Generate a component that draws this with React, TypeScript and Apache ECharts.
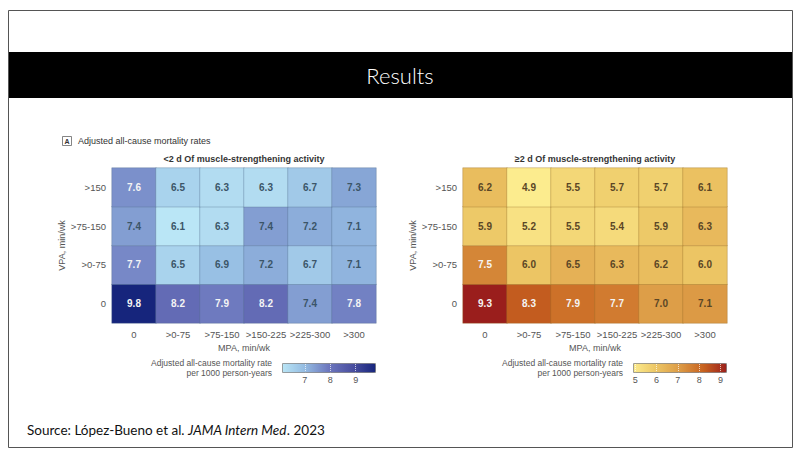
import React, { useEffect, useRef } from "react";
import * as echarts from "echarts";

const xCats = ["0", ">0-75", ">75-150", ">150-225", ">225-300", ">300"];
const yCats = ["0", ">0-75", ">75-150", ">150"];

// rows from bottom (VPA 0) to top (VPA >150), columns follow xCats
const lowRows = [
  [9.8, 8.2, 7.9, 8.2, 7.4, 7.8],
  [7.7, 6.5, 6.9, 7.2, 6.7, 7.1],
  [7.4, 6.1, 6.3, 7.4, 7.2, 7.1],
  [7.6, 6.5, 6.3, 6.3, 6.7, 7.3],
];
const highRows = [
  [9.3, 8.3, 7.9, 7.7, 7.0, 7.1],
  [7.5, 6.0, 6.5, 6.3, 6.2, 6.0],
  [5.9, 5.2, 5.5, 5.4, 5.9, 6.3],
  [6.2, 4.9, 5.5, 5.7, 5.7, 6.1],
];

const lowTicks = [7, 8, 9];
const highTicks = [5, 6, 7, 8, 9];
const lowRange = [6.1, 9.8];
const highRange = [4.9, 9.3];

const lowColors = ["#bae6f6", "#93bae1", "#6c76bd", "#4a4fa0", "#16257c"];
const highColors = ["#fcec8e", "#ecc564", "#dc9a45", "#c7621f", "#9a1e1c"];

const NARROW = "'Liberation Sans Narrow', 'Liberation Sans', sans-serif";
const SANS = "'Liberation Sans', sans-serif";

function buildData(rows: number[][], dark: string) {
  const out: any[] = [];
  rows.forEach((row, y) =>
    row.forEach((v, x) =>
      out.push({
        value: [x, y, v],
        label: { color: v >= 7.5 ? "#f4f4f4" : dark },
      })
    )
  );
  return out;
}

export default function App() {
  const ref = useRef<HTMLDivElement>(null);

  useEffect(() => {
    if (!ref.current) return;
    const chart = echarts.init(ref.current, null, { renderer: "svg" });

    const grids = [
      { left: 112, top: 168, width: 264, height: 155 },
      { left: 463, top: 168, width: 264, height: 155 },
      { left: 282, top: 363, width: 94, height: 10 },
      { left: 633, top: 363, width: 94, height: 10 },
    ];

    const catX = (gi: number) => ({
      type: "category",
      gridIndex: gi,
      data: xCats,
      axisLine: { show: false },
      axisTick: { show: false },
      splitArea: { show: false },
      axisLabel: {
        interval: 0,
        hideOverlap: false,
        fontFamily: NARROW,
        fontSize: 9.5,
        color: "#555",
        margin: 6,
      },
      name: "MPA, min/wk",
      nameLocation: "middle",
      nameGap: 20,
      nameTextStyle: { fontFamily: NARROW, fontSize: 9, color: "#555" },
    });
    const catY = (gi: number) => ({
      type: "category",
      gridIndex: gi,
      data: yCats,
      axisLine: { show: false },
      axisTick: { show: false },
      axisLabel: { interval: 0, fontFamily: NARROW, fontSize: 9.5, color: "#555", margin: 6 },
      name: "VPA, min/wk",
      nameLocation: "middle",
      nameGap: 35,
      nameTextStyle: { fontFamily: NARROW, fontSize: 9, color: "#555" },
    });
    const tickX = (gi: number, range: number[], ticks: number[]) => ({
      type: "value",
      gridIndex: gi,
      min: range[0],
      max: range[1],
      z: 10,
      axisLine: { show: false },
      splitLine: { show: false },
      axisTick: {
        show: true,
        inside: true,
        length: 10,
        customValues: ticks,
        lineStyle: { color: "rgba(255,255,255,0.7)", type: "dotted", width: 1 },
      },
      axisLabel: {
        customValues: ticks,
        fontFamily: NARROW,
        fontSize: 9,
        color: "#555",
        margin: 2,
      },
    });
    const hiddenY = (gi: number) => ({
      type: "value",
      gridIndex: gi,
      show: false,
    });

    const heat = (xi: number, rows: number[][], dark: string, border: string) => ({
      type: "heatmap",
      xAxisIndex: xi,
      yAxisIndex: xi,
      data: buildData(rows, dark),
      label: {
        show: true,
        fontFamily: SANS,
        fontSize: 10,
        fontWeight: "bold",
        formatter: (p: any) => p.value[2].toFixed(1),
      },
      itemStyle: { borderColor: border, borderWidth: 1 },
      emphasis: { disabled: true },
    });

    const option: any = {
      animation: false,
      backgroundColor: "#ffffff",
      grid: grids,
      xAxis: [
        catX(0),
        catX(1),
        tickX(2, lowRange, lowTicks),
        tickX(3, highRange, highTicks),
      ],
      yAxis: [catY(0), catY(1), hiddenY(2), hiddenY(3)],
      visualMap: [
        {
          type: "continuous",
          seriesIndex: 0,
          min: lowRange[0],
          max: lowRange[1],
          orient: "horizontal",
          left: 282,
          top: 363,
          itemWidth: 10,
          itemHeight: 94,
          padding: 0,
          calculable: false,
          hoverLink: false,
          text: null,
          showLabel: false,
          inRange: { color: lowColors },
          borderWidth: 0,
        },
        {
          type: "continuous",
          seriesIndex: 1,
          min: highRange[0],
          max: highRange[1],
          orient: "horizontal",
          left: 633,
          top: 363,
          itemWidth: 10,
          itemHeight: 94,
          padding: 0,
          calculable: false,
          hoverLink: false,
          text: null,
          showLabel: false,
          inRange: { color: highColors },
          borderWidth: 0,
        },
      ],
      series: [
        heat(0, lowRows, "#3b5568", "rgba(80,110,140,0.35)"),
        heat(1, highRows, "#5b4626", "rgba(150,110,40,0.35)"),
      ],
      graphic: [
        {
          type: "rect",
          z: 100,
          shape: { x: 8.5, y: 10.5, width: 784, height: 437 },
          style: { fill: "none", stroke: "#555", lineWidth: 1 },
        },
        {
          type: "rect",
          z: 90,
          shape: { x: 9, y: 52, width: 783, height: 46 },
          style: { fill: "#000" },
        },
        {
          type: "text",
          z: 95,
          x: 400,
          y: 75,
          style: {
            text: "Results",
            fill: "#fff",
            fontFamily: "Lato, 'Open Sans', sans-serif",
            fontWeight: 300,
            fontSize: 22,
            align: "center",
            verticalAlign: "middle",
          },
        },
        {
          type: "text",
          z: 95,
          x: 27,
          y: 430,
          style: {
            text: "Source: López-Bueno et al. {i|JAMA Intern Med}. 2023",
            fill: "#111",
            fontFamily: "Lato, sans-serif",
            fontSize: 13.5,
            verticalAlign: "middle",
            rich: {
              i: { fontStyle: "italic", fontFamily: "Lato, sans-serif", fontSize: 13.5, fill: "#111" },
            },
          },
        },
        {
          type: "rect",
          z: 95,
          shape: { x: 62.5, y: 136.5, width: 9, height: 9 },
          style: { fill: "#fff", stroke: "#666", lineWidth: 0.8 },
        },
        {
          type: "text",
          z: 96,
          x: 67,
          y: 141.5,
          style: {
            text: "A",
            fill: "#333",
            fontFamily: SANS,
            fontWeight: "bold",
            fontSize: 7,
            align: "center",
            verticalAlign: "middle",
          },
        },
        {
          type: "text",
          z: 95,
          x: 78,
          y: 141,
          style: {
            text: "Adjusted all-cause mortality rates",
            fill: "#333",
            fontFamily: NARROW,
            fontSize: 9,
            verticalAlign: "middle",
          },
        },
        {
          type: "text",
          z: 95,
          x: 244,
          y: 159,
          style: {
            text: "<2 d Of muscle-strengthening activity",
            fill: "#333",
            fontFamily: NARROW,
            fontWeight: "bold",
            fontSize: 9,
            align: "center",
            verticalAlign: "middle",
          },
        },
        {
          type: "text",
          z: 95,
          x: 595,
          y: 159,
          style: {
            text: "≥2 d Of muscle-strengthening activity",
            fill: "#333",
            fontFamily: NARROW,
            fontWeight: "bold",
            fontSize: 9,
            align: "center",
            verticalAlign: "middle",
          },
        },
        {
          type: "text",
          z: 95,
          x: 272,
          y: 368,
          style: {
            text: "Adjusted all-cause mortality rate\nper 1000 person-years",
            fill: "#555",
            fontFamily: NARROW,
            fontSize: 8.5,
            lineHeight: 10,
            align: "right",
            verticalAlign: "middle",
          },
        },
        {
          type: "text",
          z: 95,
          x: 623,
          y: 368,
          style: {
            text: "Adjusted all-cause mortality rate\nper 1000 person-years",
            fill: "#555",
            fontFamily: NARROW,
            fontSize: 8.5,
            lineHeight: 10,
            align: "right",
            verticalAlign: "middle",
          },
        },
        {
          type: "rect",
          z: 95,
          shape: { x: 282.5, y: 363.5, width: 93, height: 9 },
          style: { fill: "none", stroke: "#8a8a8a", lineWidth: 0.8 },
        },
        {
          type: "rect",
          z: 95,
          shape: { x: 633.5, y: 363.5, width: 93, height: 9 },
          style: { fill: "none", stroke: "#8a8a8a", lineWidth: 0.8 },
        },
      ],
    };

    chart.setOption(option);
    return () => chart.dispose();
  }, []);

  return (
    <div
      ref={ref}
      style={{ position: "absolute", left: 0, top: 0, width: 800, height: 457 }}
    />
  );
}
